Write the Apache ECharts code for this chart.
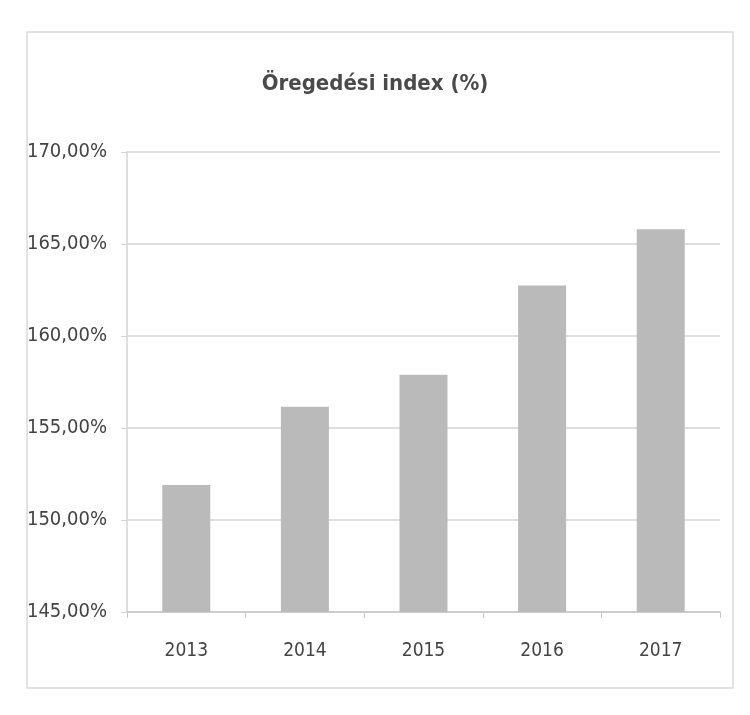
<!DOCTYPE html>
<html>
<head>
<meta charset="utf-8">
<script src="https://cdn.jsdelivr.net/npm/echarts@6/dist/echarts.min.js"></script>
<style>
html,body{margin:0;padding:0;background:#fff;}
#chart{width:750px;height:715px;}
</style>
</head>
<body>
<div id="chart"></div>
<script>
const titleText = 'Öregedési index (%)';
const categories = ['2013', '2014', '2015', '2016', '2017'];
const values = [151.9, 156.15, 157.9, 162.75, 165.8];
const yMin = 145, yMax = 170, yStep = 5;

const FONT = '"DejaVu Sans Condensed", "Liberation Sans", sans-serif';
const chart = echarts.init(document.getElementById('chart'), null, {renderer: 'canvas'});
chart.setOption({
  backgroundColor: '#ffffff',
  animation: false,
  title: {
    text: titleText,
    left: 'center',
    top: 68,
    textStyle: {fontFamily: FONT, fontSize: 22, fontWeight: 'bold', color: '#4a4a4a'}
  },
  graphic: [{
    type: 'rect',
    shape: {x: 27, y: 32, width: 706, height: 656},
    style: {fill: 'none', stroke: '#d9d9d9', lineWidth: 1.5}
  }],
  grid: {left: 127, right: 30, top: 152, bottom: 103, containLabel: false},
  xAxis: {
    type: 'category',
    data: categories,
    axisLine: {show: true, lineStyle: {color: '#c8c8c8', width: 1.5}},
    axisTick: {show: true, length: 6, lineStyle: {color: '#c8c8c8'}},
    axisLabel: {fontFamily: FONT, fontSize: 19, color: '#444', margin: 30}
  },
  yAxis: {
    type: 'value',
    min: yMin,
    max: yMax,
    interval: yStep,
    axisLine: {show: true, lineStyle: {color: '#d4d4d4', width: 1.5}},
    axisTick: {show: true, length: 6, lineStyle: {color: '#d4d4d4'}},
    splitLine: {show: true, lineStyle: {color: '#d4d4d4', width: 1.5}},
    axisLabel: {
      fontFamily: FONT, fontSize: 20, color: '#444', margin: 20,
      formatter: v => v.toFixed(2).replace('.', ',') + '%'
    }
  },
  series: [{
    type: 'bar',
    data: values,
    barWidth: 48,
    itemStyle: {color: '#bababa'}
  }]
});
</script>
</body>
</html>
